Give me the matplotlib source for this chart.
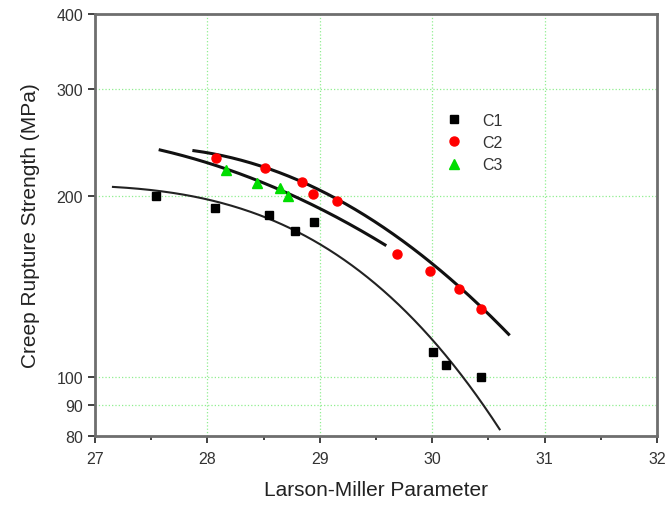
import numpy as np
import matplotlib
matplotlib.use("Agg")
import matplotlib.pyplot as plt
from matplotlib.ticker import FixedLocator, NullLocator, MultipleLocator, FixedFormatter

plt.rcParams['font.family'] = ['Liberation Sans', 'DejaVu Sans']

# measured points
c1_lmp = [27.54, 28.07, 28.55, 28.78, 28.95, 30.01, 30.12, 30.43]
c1_str = [200, 191, 186, 175, 181, 110, 105, 100]
c2_lmp = [28.08, 28.51, 28.84, 28.94, 29.15, 29.69, 29.98, 30.24, 30.43]
c2_str = [231, 222, 211, 201, 196, 160, 150, 140, 130]
c3_lmp = [28.17, 28.44, 28.65, 28.72]
c3_str = [221, 210, 206, 200]

# trend curves, points
fit1_lmp = [27.16, 27.53, 27.98, 28.42, 28.69, 29.00, 29.30, 29.62, 29.72, 30.01, 30.31, 30.60]
fit1_str = [206.7, 204.8, 197.1, 186.1, 178.0, 167.0, 153.6, 136.1, 131.8, 114.5, 97.0, 82.7]
fit2_lmp = [27.88, 28.56, 29.15, 29.60, 30.01, 30.31, 30.68]
fit2_str = [238.7, 219.1, 197.1, 176.8, 153.6, 138.7, 117.1]
fit3_lmp = [27.58, 27.98, 28.44, 28.69, 29.03, 29.58]
fit3_str = [240.8, 222.6, 212.8, 203.5, 191.0, 164.9]

y_ticks = [80, 90, 100, 200, 300, 400]
x_ticks = [27, 28, 29, 30, 31, 32]


def smooth(px, py, deg):
    # smooth the read-off trend points (log scale) so the line has no corners
    c = np.polyfit(px, np.log10(py), deg)
    xx = np.linspace(min(px), max(px), 200)
    return xx, 10 ** np.polyval(c, xx)


fig = plt.figure(figsize=(6.66, 5.06), dpi=100)
ax = fig.add_axes([0.1426, 0.1364, 0.8439, 0.834])

ax.plot(*smooth(fit1_lmp, fit1_str, 3), color='#222222', lw=1.5, zorder=2)
ax.plot(*smooth(fit2_lmp, fit2_str, 2), color='#111111', lw=2.2, zorder=2)
ax.plot(*smooth(fit3_lmp, fit3_str, 2), color='#111111', lw=2.2, zorder=2)

ax.plot(c1_lmp, c1_str, 's', color='black', ms=6, ls='none', label='C1', zorder=3)
ax.plot(c2_lmp, c2_str, 'o', color='#ff0000', ms=6.5, ls='none', label='C2', zorder=3)
ax.plot(c3_lmp, c3_str, '^', color='#00dd00', ms=7, ls='none', label='C3', zorder=3)

ax.set_yscale('log')
ax.set_xlim(27, 32)
ax.set_ylim(80, 400)
ax.yaxis.set_major_locator(FixedLocator(y_ticks))
ax.yaxis.set_major_formatter(FixedFormatter([str(v) for v in y_ticks]))
ax.yaxis.set_minor_locator(NullLocator())
ax.xaxis.set_major_locator(FixedLocator(x_ticks))
ax.xaxis.set_minor_locator(MultipleLocator(0.5))

ax.grid(True, which='major', color='#90ee90', ls=':', lw=0.9)
ax.set_axisbelow(True)

for sp in ax.spines.values():
    sp.set_color('#6e6e6e')
    sp.set_linewidth(2)

ax.tick_params(axis='both', which='major', direction='out', length=5, width=1.3,
               color='#333333', labelsize=11.5, labelcolor='#333333')
ax.tick_params(axis='x', which='major', pad=6)
ax.tick_params(axis='x', which='minor', direction='out', length=3, width=1.3, color='#333333')

ax.set_xlabel('Larson-Miller Parameter', fontsize=15, color='#222222', labelpad=10)
ax.set_ylabel('Creep Rupture Strength (MPa)', fontsize=15, color='#222222', labelpad=12)

ax.legend(loc='upper left', bbox_to_anchor=(0.584, 0.80), frameon=False, fontsize=11.5,
          handletextpad=0.8, labelspacing=0.45, labelcolor='#333333')

fig.savefig('out.png', dpi=100)
